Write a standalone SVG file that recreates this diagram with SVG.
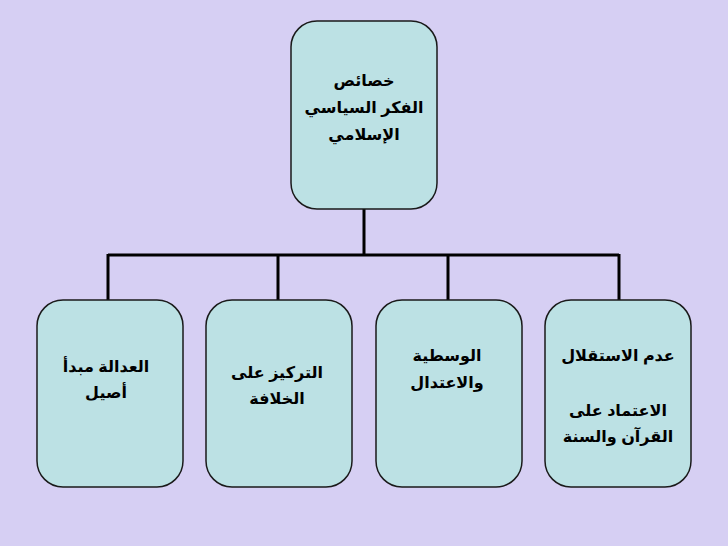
<svg xmlns="http://www.w3.org/2000/svg" width="728" height="546" viewBox="0 0 728 546">
<style>
.box{fill:#BCE1E4;stroke:#1a1a1a;stroke-width:1.5}
.t{font-family:"Liberation Sans",Arial,"DejaVu Sans",sans-serif;font-weight:bold;font-size:16px;fill:#000;text-anchor:middle}
.c{fill:none;stroke:#000;stroke-width:3}
</style>
<rect width="728" height="546" fill="#D6CFF3"/>
<g id="connectors">
<path class="c" d="M364 209V255M108 255H619M108 254V300M278 254V300M448 254V300M619 254V300"/>
</g>
<g id="root">
<rect class="box" x="291" y="21" width="146" height="188" rx="26"/>
<text class="t" x="364" y="86">خصائص</text>
<text class="t" x="364" y="113">الفكر السياسي</text>
<text class="t" x="364" y="140">الإسلامي</text>
</g>
<g id="n1">
<rect class="box" x="37" y="300" width="146" height="187" rx="26"/>
<text class="t" x="106" y="372">العدالة مبدأ</text>
<text class="t" x="106" y="398">أصيل</text>
</g>
<g id="n2">
<rect class="box" x="206" y="300" width="146" height="187" rx="26"/>
<text class="t" x="277" y="378">التركيز على</text>
<text class="t" x="277" y="404">الخلافة</text>
</g>
<g id="n3">
<rect class="box" x="376" y="300" width="146" height="187" rx="26"/>
<text class="t" x="447" y="361">الوسطية</text>
<text class="t" x="447" y="388">والاعتدال</text>
</g>
<g id="n4">
<rect class="box" x="545" y="300" width="146" height="187" rx="26"/>
<text class="t" x="618" y="361">عدم الاستقلال</text>
<text class="t" x="618" y="416">الاعتماد على</text>
<text class="t" x="618" y="442">القرآن والسنة</text>
</g>
</svg>
